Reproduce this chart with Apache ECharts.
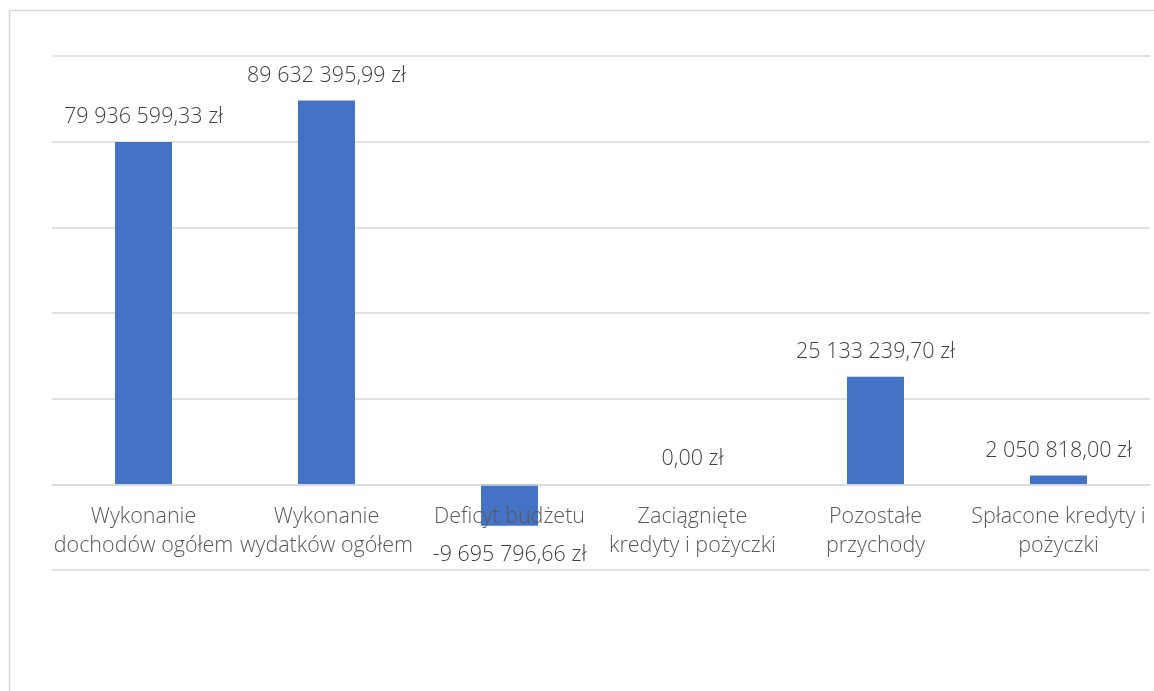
<!DOCTYPE html>
<html>
<head>
<meta charset="utf-8">
<style>
html,body{margin:0;padding:0;background:#fff;}
#chart{width:1154px;height:691px;}
</style>
<script src="https://cdn.jsdelivr.net/npm/echarts@6/dist/echarts.min.js"></script>
</head>
<body>
<div id="chart"></div>
<script>
const categories = [
  'Wykonanie\ndochodów ogółem',
  'Wykonanie\nwydatków ogółem',
  'Deficyt budżetu',
  'Zaciągnięte\nkredyty i pożyczki',
  'Pozostałe\nprzychody',
  'Spłacone kredyty i\npożyczki'
];
const values = [79936599.33, 89632395.99, -9695796.66, 0, 25133239.70, 2050818.00];
const yTicks = [-20000000, 0, 20000000, 40000000, 60000000, 80000000, 100000000];

function fmt(v){
  const neg = v < 0;
  const s = Math.abs(v).toFixed(2).split('.');
  const int = s[0].replace(/\B(?=(\d{3})+(?!\d))/g, ' ');
  return (neg ? '-' : '') + int + ',' + s[1] + ' zł';
}

const W = 1154, H = 691;
const gridTop = 56, gridBottom = 121;
const gridH = H - gridTop - gridBottom;
const yMin = yTicks[0], yMax = yTicks[yTicks.length - 1];
const zeroOffset = -gridH * (0 - yMin) / (yMax - yMin);

const chart = echarts.init(document.getElementById('chart'));
const font = '"Segoe UI Light","Open Sans","Noto Sans",sans-serif';
chart.setOption({
  animation: false,
  backgroundColor: '#fff',
  graphic: [{
    type: 'rect',
    shape: {x: 9.5, y: 10.5, width: 1200, height: 800},
    style: {fill: 'none', stroke: '#d9d9d9', lineWidth: 1.5},
    silent: true
  }],
  grid: {left: 52, right: 4, top: gridTop, bottom: gridBottom, containLabel: false},
  xAxis: {
    type: 'category',
    data: categories,
    position: 'bottom',
    offset: zeroOffset,
    axisLine: {show: true, onZero: false, lineStyle: {color: '#d9d9d9', width: 1.5}},
    axisTick: {show: false},
    axisLabel: {
      interval: 0,
      margin: 18,
      color: '#595959',
      fontFamily: font,
      fontWeight: 300,
      fontSize: 21.5,
      lineHeight: 29
    },
    z: 3
  },
  yAxis: {
    type: 'value',
    min: yMin,
    max: yMax,
    interval: 20000000,
    axisLabel: {show: false},
    axisLine: {show: false},
    axisTick: {show: false},
    splitLine: {lineStyle: {color: '#d9d9d9', width: 1.5}}
  },
  series: [{
    type: 'bar',
    barWidth: 57,
    z: 2,
    itemStyle: {color: '#4472c4'},
    data: values.map(v => ({
      value: v,
      label: v < 0 ? {position: 'bottom', distance: 16} : {position: 'top'}
    })),
    label: {
      show: true,
      distance: 12,
      color: '#404040',
      fontFamily: font,
      fontWeight: 300,
      fontSize: 21.5,
      lineHeight: 26,
      formatter: p => fmt(p.value)
    }
  }]
});
</script>
</body>
</html>
